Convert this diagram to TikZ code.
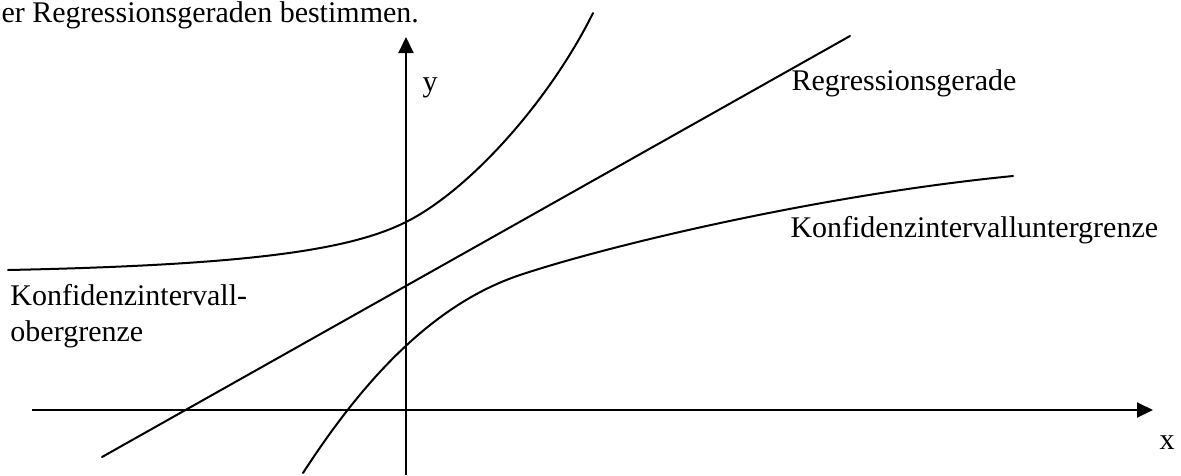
\documentclass[tikz,border=0pt]{standalone}
\usepackage{fontspec}
\setmainfont{Liberation Serif}
\usetikzlibrary{arrows.meta}
\begin{document}
\begin{tikzpicture}[x=0.4pt,y=-0.4pt,
  curve/.style={line width=0.8pt, line cap=round},
  axis/.style={line width=0.8pt, -{Triangle[length=6.4pt,width=6pt]}},
  lbl/.style={inner sep=0pt, anchor=base west, font=\fontsize{12}{14}\selectfont}]
\useasboundingbox (0,0) rectangle (1181,475);
% axes
\coordinate (xs) at (32,410);
\coordinate (xe) at (1153,410);
\coordinate (ys) at (406,475);
\coordinate (ye) at (406,37);
\draw[axis] (xs) -- (xe);
\draw[axis] (ys) -- (ye);
% regression line
\coordinate (r1) at (102,457);
\coordinate (r2) at (850,36);
\draw[curve] (r1) -- (r2);
% upper confidence bound
\coordinate (u1) at (8,270);
\coordinate (u2) at (406,222);
\coordinate (u3) at (593,13);
\draw[curve] (u1) .. controls (250,265) and (350,250) .. (u2)
                  .. controls (470,190) and (550,100) .. (u3);
% lower confidence bound
\coordinate (l1) at (303,473);
\coordinate (l2) at (520,275);
\coordinate (l3) at (1013,176);
\draw[curve] (l1) .. controls (360,385) and (430,305) .. (l2)
                  .. controls (610,245) and (820,195) .. (l3);
% labels
\node[lbl] (top) at (1,22) {er Regressionsgeraden bestimmen.};
\node[lbl] (ylab) at (422,91) {y};
\node[lbl] (xlab) at (1159,449) {x};
\node[lbl] (reg) at (791,90) {Regressionsgerade};
\node[lbl] (unt) at (790,237) {Konfidenzintervalluntergrenze};
\node[lbl] (ob1) at (10,305) {Konfidenzintervall-};
\node[lbl] (ob2) at (10,341) {obergrenze};
\end{tikzpicture}
\end{document}
